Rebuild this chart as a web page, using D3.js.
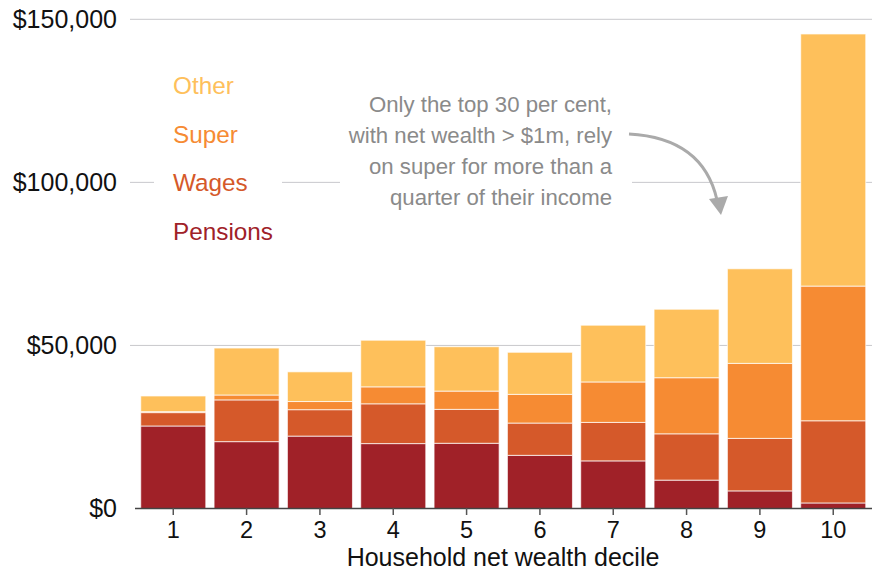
<!DOCTYPE html>
<html>
<head>
<meta charset="utf-8">
<script src="https://cdn.jsdelivr.net/npm/d3@7"></script>
<style>
  body { margin: 0; background: #fff; }
  svg { font-family: "Liberation Sans", Arial, sans-serif; }
</style>
</head>
<body>
<div id="chart"></div>
<script>
// deciles and income sources (in $ per year)
const deciles = [1, 2, 3, 4, 5, 6, 7, 8, 9, 10];
const pensions = [25300, 20500, 22200, 19900, 20000, 16300, 14600, 8700, 5400, 1700];
const wages = [4100, 12800, 8100, 12200, 10400, 9900, 11800, 14200, 16100, 25200];
const superIncome = [300, 1500, 2500, 5200, 5600, 8800, 12400, 17200, 23000, 41300];
const other = [4800, 14400, 9100, 14300, 13600, 12900, 17400, 21000, 29000, 77300];

const seriesNames = ["Pensions", "Wages", "Super", "Other"];
const seriesColors = ["#a02128", "#d5592a", "#f68b33", "#fec05b"];
const yTicks = [0, 50000, 100000, 150000];

const width = 872, height = 573;

const svg = d3.select("#chart").append("svg")
  .attr("width", width)
  .attr("height", height);

// tabla para el stack
const rows = deciles.map((d, i) => ({
  decile: d,
  Pensions: pensions[i],
  Wages: wages[i],
  Super: superIncome[i],
  Other: other[i]
}));

const x = d3.scaleBand()
  .domain(deciles)
  .range([136.6, 869.9])
  .paddingInner(0.113)
  .paddingOuter(0.0565);

const y = d3.scaleLinear()
  .domain([0, 150000])
  .range([508.5, 19.3]);

// gridlines
svg.append("g")
  .selectAll("line")
  .data(yTicks.filter(t => t > 0))
  .enter().append("line")
  .attr("x1", 130)
  .attr("x2", width)
  .attr("y1", d => y(d))
  .attr("y2", d => y(d))
  .attr("stroke", "#c8c8cc")
  .attr("stroke-width", 1);

// y labels
svg.append("g")
  .selectAll("text")
  .data(yTicks)
  .enter().append("text")
  .attr("x", 117)
  .attr("y", d => y(d) + 8.5)
  .attr("text-anchor", "end")
  .attr("font-size", 25)
  .attr("fill", "#111")
  .text(d => "$" + d3.format(",")(d));

// legend (white background hides the gridline)
const legend = svg.append("g");
legend.append("rect")
  .attr("x", 154).attr("y", 60)
  .attr("width", 128).attr("height", 190)
  .attr("fill", "#fff");
const legendBaselines = [239.5, 191, 142.5, 93.5];
seriesNames.forEach((name, i) => {
  legend.append("text")
    .attr("x", 173)
    .attr("y", legendBaselines[i])
    .attr("font-size", 24.3)
    .attr("fill", seriesColors[i])
    .text(name);
});

// annotation
const note = svg.append("g");
note.append("rect")
  .attr("x", 340).attr("y", 88)
  .attr("width", 292).attr("height", 125)
  .attr("fill", "#fff");
const noteLines = ["Only the top 30 per cent,", "with net wealth > $1m, rely", "on super for more than a", "quarter of their income"];
note.selectAll("text")
  .data(noteLines)
  .enter().append("text")
  .attr("x", 612)
  .attr("y", (d, i) => 112 + i * 31)
  .attr("text-anchor", "end")
  .attr("font-size", 22.2)
  .attr("fill", "#8a8a8a")
  .text(d => d);

// stacked bars
const stack = d3.stack().keys(seriesNames);
const layers = stack(rows);

svg.append("g")
  .selectAll("g")
  .data(layers)
  .enter().append("g")
  .attr("fill", (d, i) => seriesColors[i])
  .selectAll("rect")
  .data(d => d)
  .enter().append("rect")
  .attr("x", d => x(d.data.decile))
  .attr("width", x.bandwidth())
  .attr("y", d => y(d[1]))
  .attr("height", d => y(d[0]) - y(d[1]))
  .attr("stroke", "#fff")
  .attr("stroke-opacity", 0.7)
  .attr("stroke-width", 1);

// arrow
svg.append("path")
  .attr("d", "M629,134 Q703,138 717,200")
  .attr("fill", "none")
  .attr("stroke", "#aaa")
  .attr("stroke-width", 3);
svg.append("path")
  .attr("d", "M709,199 L728,196 L721,215 Z")
  .attr("fill", "#aaa");

// x axis
const xAxis = svg.append("g");
xAxis.append("line")
  .attr("x1", 135).attr("x2", width)
  .attr("y1", 508.5).attr("y2", 508.5)
  .attr("stroke", "#444")
  .attr("stroke-width", 1.5);
xAxis.selectAll(".tick")
  .data(deciles)
  .enter().append("line")
  .attr("x1", d => x(d) + x.bandwidth() / 2)
  .attr("x2", d => x(d) + x.bandwidth() / 2)
  .attr("y1", 508)
  .attr("y2", 515)
  .attr("stroke", "#555")
  .attr("stroke-width", 1.5);
xAxis.selectAll(".tick-label")
  .data(deciles)
  .enter().append("text")
  .attr("x", d => x(d) + x.bandwidth() / 2)
  .attr("y", 538)
  .attr("text-anchor", "middle")
  .attr("font-size", 23.5)
  .attr("fill", "#111")
  .text(d => d);

svg.append("text")
  .attr("x", 503)
  .attr("y", 566)
  .attr("text-anchor", "middle")
  .attr("font-size", 25)
  .attr("fill", "#111")
  .text("Household net wealth decile");
</script>
</body>
</html>
